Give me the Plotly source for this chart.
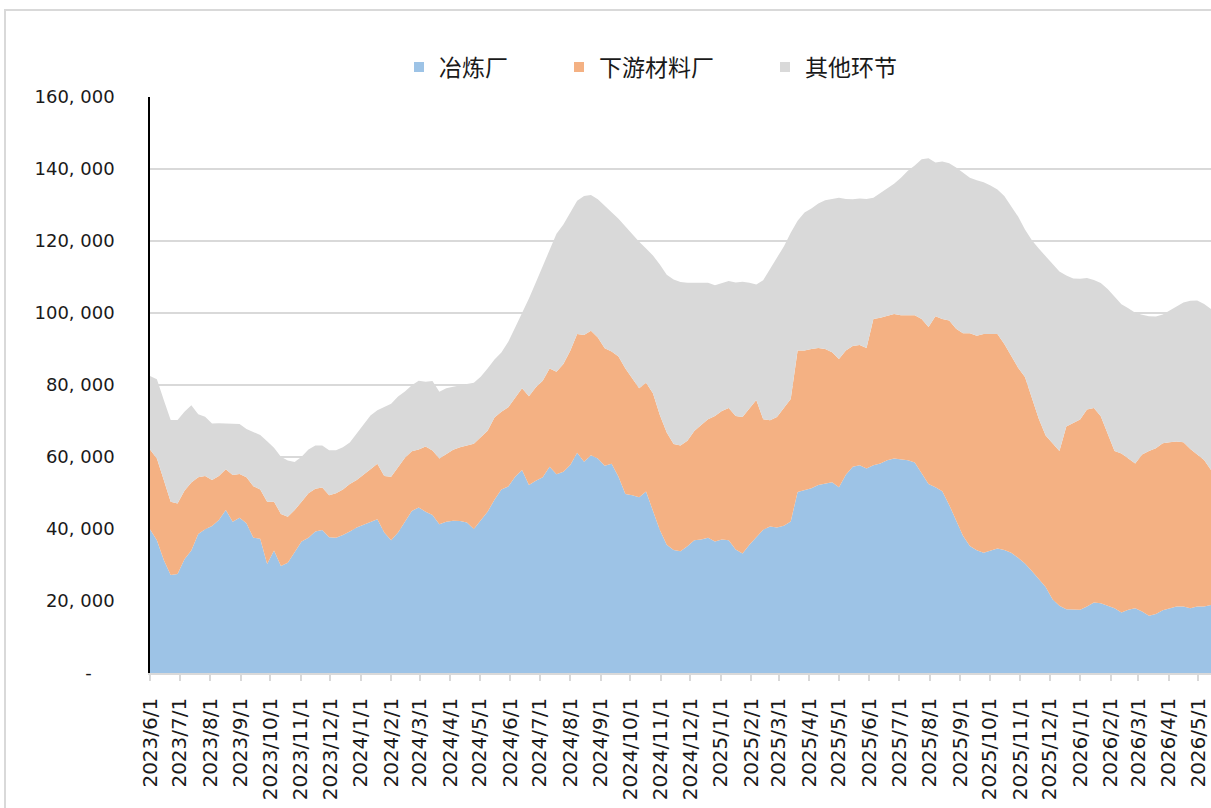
import pandas as pd
import plotly.graph_objects as go

# ---- data (weekly) ----
dates = pd.date_range("2023-06-01", periods=155, freq="7D")

smelter = [
    39900, 36900, 31400, 27200, 27500, 31600, 34000, 38600, 39900, 40800,
    42500, 45300, 42000, 43100, 41600, 37600, 37300, 30300, 34000, 29700,
    30600, 33700, 36500, 37600, 39300, 39700, 37700, 37600, 38300, 39300,
    40400, 41200, 42000, 42700, 39000, 36900, 39000, 42000, 45000, 46000,
    44800, 43900, 41300, 42000, 42300, 42200, 41800, 40000, 42300, 44800,
    48100, 51000, 51800, 54500, 56400, 52200, 53400, 54400, 57300, 55200,
    55900, 57800, 61200, 58700, 60500, 59600, 57600, 58100, 54500, 49700,
    49400, 48800, 50400, 45300, 39700, 35600, 34200, 33800, 35200, 36900,
    37100, 37600, 36500, 37100, 36900, 34300, 33200, 35600, 37700, 39800,
    40700, 40400, 40900, 42100, 50300, 50900, 51300, 52200, 52700, 53000,
    51600, 55100, 57300, 57700, 56800, 57700, 58200, 59100, 59600, 59400,
    59100, 58500, 55600, 52500, 51600, 50500, 46700, 42300, 38100, 35300,
    34100, 33400, 33900, 34600, 34200, 33400, 32000, 30400, 28300, 26000,
    23900, 20500, 18700, 17700, 17600, 17600, 18500, 19600, 19400, 18700,
    18000, 16800, 17600, 18000, 17100, 15900, 16400, 17400, 18000, 18500,
    18500, 18000, 18500, 18500, 18900,
]

downstream = [
    22200, 22700, 22200, 20400, 19600, 19000, 18900, 15800, 14800, 12800,
    12200, 11300, 13000, 12200, 12800, 14300, 13700, 17300, 13600, 14500,
    12800, 11600, 11100, 12300, 11900, 11800, 11700, 12300, 12700, 13200,
    13200, 13800, 14600, 15400, 15700, 17600, 18300, 17800, 16600, 16100,
    18100, 17900, 18300, 18900, 19700, 20500, 21400, 23700, 23200, 22500,
    22900, 21600, 22000, 22100, 22700, 24700, 26000, 26800, 27300, 28500,
    29900, 31700, 33000, 35200, 34600, 33600, 32600, 31200, 33400, 34900,
    32500, 30300, 30200, 32400, 32000, 31200, 29400, 29400, 29300, 30300,
    31800, 32900, 34900, 35700, 36700, 37100, 37900, 38000, 38100, 30700,
    29500, 30700, 32700, 34000, 39300, 38700, 38700, 38100, 37300, 36100,
    35600, 34500, 33500, 33400, 33500, 40600, 40500, 40100, 40100, 40000,
    40300, 40900, 42700, 43600, 47500, 47800, 51200, 53300, 56300, 59100,
    59600, 60800, 60300, 59600, 57200, 54700, 52800, 51800, 48100, 44600,
    42100, 43300, 43000, 50800, 51800, 52800, 54700, 54000, 51900, 47900,
    43700, 44200, 42000, 40200, 43600, 45800, 46000, 46400, 46100, 45800,
    45600, 44200, 42200, 40700, 37500,
]

other = [
    20400, 22000, 22200, 22700, 23200, 22000, 21500, 17500, 16500, 15700,
    14700, 12800, 14200, 13900, 13400, 15100, 15100, 16800, 15000, 15900,
    15600, 13300, 12500, 12200, 12000, 11700, 12500, 12000, 11700, 11500,
    13000, 14000, 14900, 14900, 19100, 20300, 19500, 18400, 18300, 19100,
    18000, 19300, 18500, 18200, 17500, 17300, 17100, 16900, 16800, 17300,
    16100, 16400, 18200, 19400, 20900, 27100, 29100, 31800, 33200, 38300,
    38800, 38600, 37000, 38600, 37700, 38400, 39500, 38700, 38300, 39400,
    40000, 40700, 37300, 38300, 41800, 43800, 45700, 45400, 43900, 41200,
    39500, 37900, 36300, 35600, 35300, 37100, 37600, 34800, 32100, 38600,
    42000, 43900, 44900, 46200, 36000, 38300, 39000, 40100, 41300, 42600,
    44800, 42100, 40800, 40700, 41400, 33700, 34600, 35400, 36200, 38200,
    40100, 41600, 44400, 46900, 42700, 43800, 43700, 44800, 44600, 43200,
    43200, 42100, 41200, 40100, 41100, 41700, 42000, 41000, 43800, 47300,
    49700, 49700, 49800, 41900, 40200, 39100, 36500, 35600, 37000, 40100,
    42900, 41400, 41700, 41900, 38800, 37400, 36600, 35800, 36600, 37600,
    38800, 41200, 42800, 43300, 44700,
]

series_names = ["冶炼厂", "下游材料厂", "其他环节"]
series_colors = ["#9DC3E6", "#F4B183", "#D9D9D9"]

y_tickvals = [0, 20000, 40000, 60000, 80000, 100000, 120000, 140000, 160000]
y_ticktext = ["-\u2007\u2007", "20, 000", "40, 000", "60, 000", "80, 000",
              "100, 000", "120, 000", "140, 000", "160, 000"]

# ---- figure ----
fig = go.Figure()
for name, vals, color in zip(series_names, [smelter, downstream, other], series_colors):
    fig.add_trace(go.Scatter(
        x=dates, y=vals, name=name, stackgroup="one", mode="lines",
        line=dict(width=0, color=color), fillcolor=color, showlegend=False,
    ))
# legend entries with square swatches
for name, color in zip(series_names, series_colors):
    fig.add_trace(go.Scatter(
        x=[None], y=[None], mode="markers", name=name + "\u3000\u3000",
        marker=dict(symbol="square", size=10, color=color), showlegend=True,
    ))

W, H = 1211, 808
L, R, T, B = 150, 0, 97, 135
pw, ph = W - L - R, H - T - B

fig.update_layout(
    width=W, height=H,
    margin=dict(l=L, r=R, t=T, b=B),
    paper_bgcolor="white", plot_bgcolor="white",
    font=dict(family="DejaVu Sans", color="#1a1a1a"),
    showlegend=True,
    legend=dict(
        orientation="h", traceorder="normal", x=(399 - L) / pw, xanchor="left",
        y=(H - B - 67) / ph, yanchor="middle",
        font=dict(family="Noto Sans CJK SC", size=23, color="#1a1a1a"),
        itemwidth=30, bgcolor="rgba(0,0,0,0)",
    ),
    shapes=[dict(
        type="rect", xref="paper", yref="paper", layer="below",
        x0=(5 - L) / pw, x1=(W + 10 - L) / pw,
        y0=-(B + 10) / ph, y1=(H - B - 10) / ph,
        line=dict(color="#D9D9D9", width=2), fillcolor="rgba(0,0,0,0)",
    )],
)

fig.update_xaxes(
    type="date", range=[dates[0], dates[-1]],
    tick0="2023-06-01", dtick="M1", tickformat="%Y/%-m/%-d",
    tickangle=-90, tickfont=dict(family="DejaVu Sans", size=20, color="#1a1a1a"),
    showgrid=False, showline=True, linecolor="#D9D9D9", linewidth=1.5,
    ticks="outside", ticklen=6, tickcolor="#D9D9D9", tickwidth=1.5,
    ticklabelstandoff=9, zeroline=False,
)
fig.update_yaxes(
    range=[0, 160000], tickvals=y_tickvals, ticktext=y_ticktext,
    tickfont=dict(family="DejaVu Sans", size=18, color="#1a1a1a"),
    showgrid=True, gridcolor="#D9D9D9", gridwidth=2,
    showline=True, linecolor="#000000", linewidth=1.5,
    ticks="", ticklabelstandoff=30, zeroline=False,
)

fig.write_html("out.html", config={"displayModeBar": False},
               post_script="document.body.style.margin='0';")
